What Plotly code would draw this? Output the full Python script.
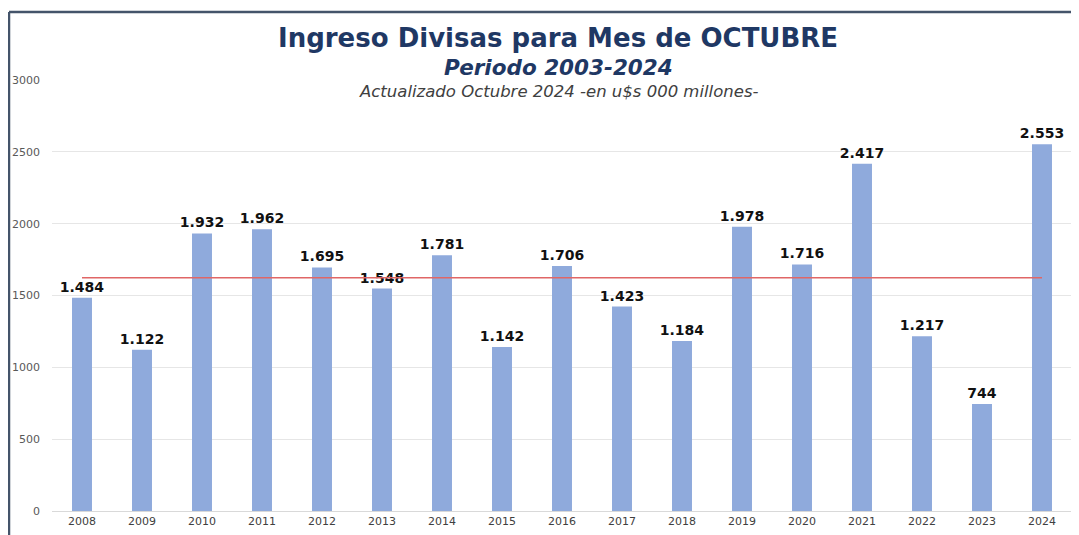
import numpy as np
import plotly.graph_objects as go

years = ["2008", "2009", "2010", "2011", "2012", "2013", "2014", "2015", "2016",
         "2017", "2018", "2019", "2020", "2021", "2022", "2023", "2024"]
ingreso = [1484, 1122, 1932, 1962, 1695, 1548, 1781, 1142, 1706,
           1423, 1184, 1978, 1716, 2417, 1217, 744, 2553]
promedio = float(np.mean(ingreso))

OFF = 8  # page body margin offset
W, H = 1079 - OFF, 535 - OFF
L, R, T, B = 52 - OFF, 7, 80 - OFF, 24
pw, ph = W - L - R, H - T - B

def px(x):
    return (x - OFF - L) / pw

def py(y):
    return (H - B - (y - OFF)) / ph

fig = go.Figure()
fig.add_trace(go.Bar(
    x=years, y=ingreso,
    marker=dict(color="#8FAADC", line=dict(width=0)),
    texttemplate="%{y:,}", textposition="outside", constraintext="none",
    textfont=dict(family="DejaVu Sans", size=14, color="#111111", weight="bold"),
    cliponaxis=False, hoverinfo="x+y",
))
fig.add_trace(go.Scatter(
    x=years, y=[promedio] * len(years), mode="lines",
    line=dict(color="#E06666", width=1.5), hoverinfo="skip",
))

navy = "#1F3864"
annotations = [
    dict(text="<b>Ingreso Divisas para Mes de OCTUBRE</b>", x=px(558), y=py(38),
         font=dict(family="DejaVu Sans", size=26, color=navy)),
    dict(text="<b><i>Periodo 2003-2024</i></b>", x=px(558), y=py(67),
         font=dict(family="DejaVu Sans", size=21.5, color=navy)),
    dict(text="<i>Actualizado Octubre 2024 -en u$s 000 millones-</i>", x=px(558), y=py(91),
         font=dict(family="DejaVu Sans", size=16.5, color="#404040")),
]
for a in annotations:
    a.update(xref="paper", yref="paper", xanchor="center", yanchor="middle", showarrow=False)

frame = "#44546A"
shapes = [
    dict(type="line", xref="paper", yref="paper", x0=px(9), x1=px(1079 + 5), y0=py(12), y1=py(12),
         line=dict(color=frame, width=2.5)),
    dict(type="line", xref="paper", yref="paper", x0=px(9), x1=px(9), y0=py(12), y1=py(535 + 5),
         line=dict(color=frame, width=2.5)),
]

fig.update_layout(
    width=W, height=H,
    margin=dict(l=L, r=R, t=T, b=B, autoexpand=False),
    paper_bgcolor="white", plot_bgcolor="white",
    separators=",.",
    showlegend=False,
    bargap=0.667,
    annotations=annotations,
    shapes=shapes,
    font=dict(family="DejaVu Sans", color="#595959"),
)
fig.update_xaxes(
    type="category", showgrid=False, showline=True, linecolor="#D9D9D9", linewidth=1,
    ticks="", automargin=False, tickfont=dict(family="DejaVu Sans", size=11, color="#404040"),
)
fig.update_yaxes(
    range=[0, 3000], dtick=500, showgrid=True, gridcolor="#E6E6E6", gridwidth=1,
    zeroline=False, showline=False, ticks="", ticklabelstandoff=11, automargin=False,
    tickfont=dict(family="DejaVu Sans", size=11, color="#595959"),
)

fig.write_html("out.html")
